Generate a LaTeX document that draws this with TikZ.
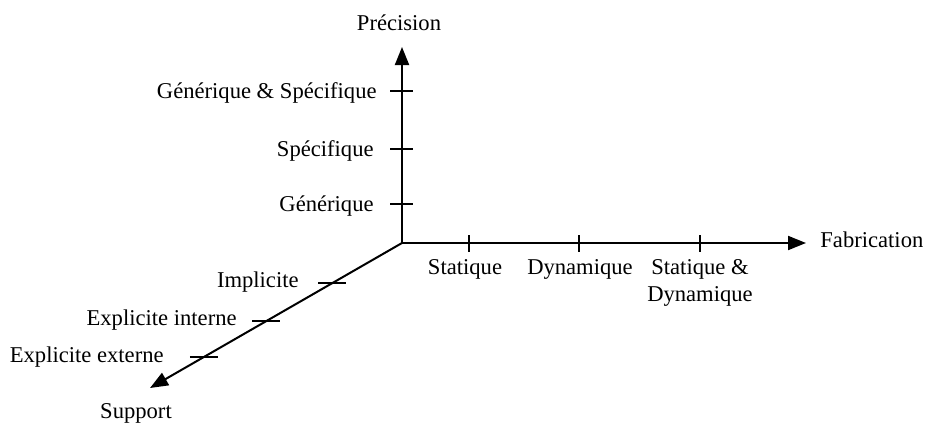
\documentclass[tikz,border=0pt]{standalone}
\usepackage{fontspec}
\setmainfont{Liberation Serif}
\usetikzlibrary{arrows.meta,calc}

\begin{document}
\begin{tikzpicture}[
  x=0.5pt, y=-0.5pt,
  >={Triangle[length=9pt,width=7pt]},
  font=\fontsize{11.3}{13.5}\selectfont,
  axisline/.style={line width=1pt, ->},
  tickmark/.style={line width=0.9pt},
  lab/.style={inner sep=0pt}]
\useasboundingbox (0,0) rectangle (926,423);
% origin and axis ends
\coordinate (O) at (402,243);
\coordinate (precTip) at (402,47);
\coordinate (fabTip) at (806,243);
\coordinate (supTip) at (150,388);
\draw[axisline] (O) -- (precTip);
\draw[axisline] (O) -- (fabTip);
\draw[axisline] (O) -- (supTip);
% axis titles
\node[lab, anchor=base] (prec) at (399,30) {Précision};
\node[lab, anchor=base west] (fab) at (820,247) {Fabrication};
\node[lab, anchor=base] (sup) at (136,418) {Support};
% precision scale
\foreach \y in {91,149,204} \draw[tickmark] (390,\y) -- (413,\y);
\node[lab, anchor=base east] (genspe) at (377,98) {Générique \& Spécifique};
\node[lab, anchor=base east] (spe) at (374,156) {Spécifique};
\node[lab, anchor=base east] (gen) at (374,211) {Générique};
% fabrication scale
\foreach \x in {469,579,700} \draw[tickmark] (\x,235) -- (\x,252);
\node[lab, anchor=base] (stat) at (465,274) {Statique};
\node[lab, anchor=base] (dyn) at (580,274) {Dynamique};
\node[lab, anchor=base, align=center] (statdyn) at (700,301) {Statique \&\\Dynamique};
% support scale
\foreach \p/\n in {0.276/t1, 0.538/t2, 0.786/t3} {
  \path (O) -- (supTip) coordinate[pos=\p] (\n);
  \draw[tickmark] ($(\n)+(-14,0)$) -- ($(\n)+(14,0)$);
}
\node[lab, anchor=base east] (impl) at (299,287) {Implicite};
\node[lab, anchor=base east] (explint) at (237,325) {Explicite interne};
\node[lab, anchor=base east] (explext) at (164,362) {Explicite externe};
\end{tikzpicture}
\end{document}
